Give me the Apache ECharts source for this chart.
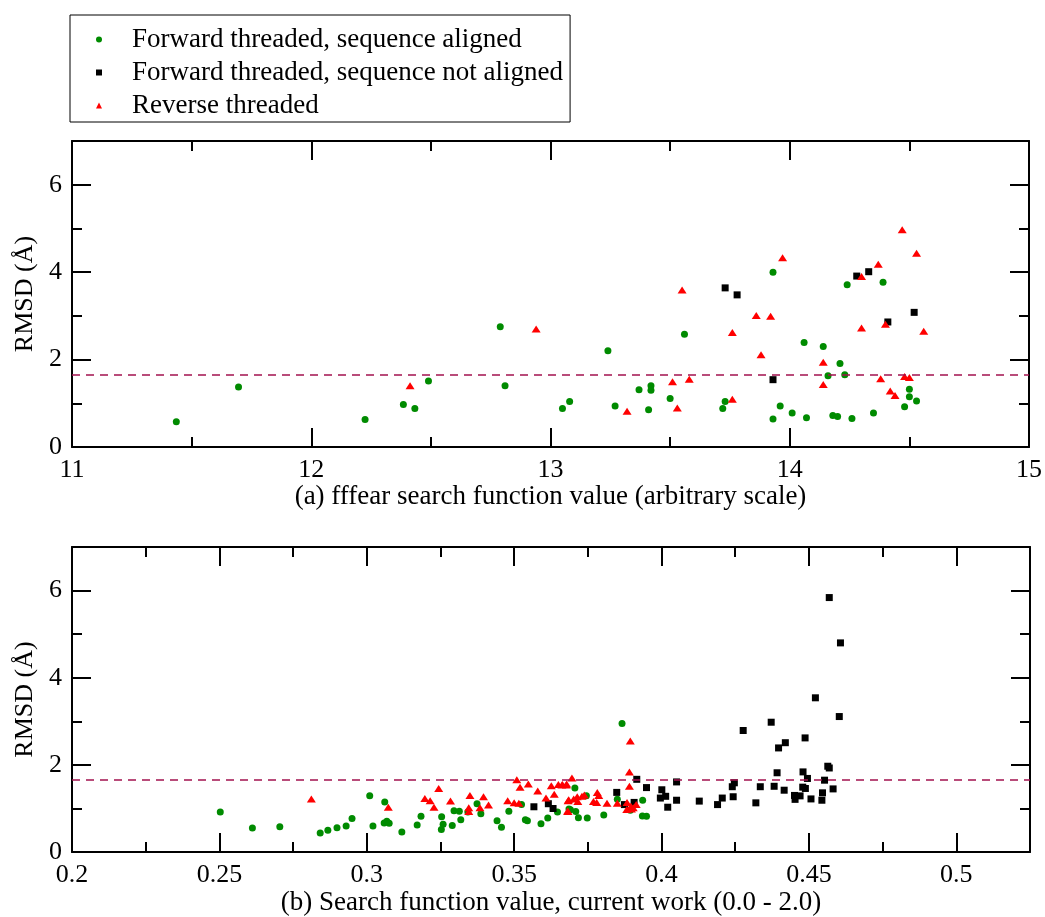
<!DOCTYPE html>
<html>
<head>
<meta charset="utf-8">
<script src="https://cdn.jsdelivr.net/npm/echarts@6/dist/echarts.min.js"></script>
<style>
  html, body { margin: 0; padding: 0; background: #fff; }
  #main { width: 1045px; height: 917px; }
</style>
</head>
<body>
<div id="main"></div>
<script>
// series names (legend)
const names = ['Forward threaded, sequence aligned', 'Forward threaded, sequence not aligned', 'Reverse threaded'];

// (a) fffear search function value vs RMSD
const topGreen = [[11.436,0.58],[11.696,1.37],[12.225,0.63],[12.385,0.97],[12.433,0.88],[12.49,1.51],[12.79,2.75],[12.81,1.40],[13.05,0.88],[13.08,1.04],[13.24,2.20],[13.27,0.94],[13.37,1.31],[13.42,1.40],[13.42,1.30],[13.41,0.85],[13.50,1.11],[13.56,2.58],[13.72,0.88],[13.73,1.04],[13.93,4.00],[13.93,0.64],[13.96,0.94],[14.01,0.78],[14.06,2.39],[14.07,0.67],[14.14,2.30],[14.16,1.63],[14.18,0.72],[14.20,0.70],[14.21,1.91],[14.23,1.65],[14.24,3.71],[14.26,0.65],[14.35,0.78],[14.39,3.77],[14.48,0.92],[14.50,1.32],[14.50,1.15],[14.53,1.05]];
const topBlack = [[13.73,3.64],[13.78,3.48],[13.93,1.54],[14.28,3.91],[14.33,4.01],[14.41,2.86],[14.52,3.08]];
const topRed = [[12.413,1.40],[12.94,2.70],[13.32,0.82],[13.51,1.49],[13.53,0.89],[13.55,3.59],[13.58,1.55],[13.76,2.62],[13.76,1.09],[13.86,3.01],[13.88,2.11],[13.92,2.99],[13.97,4.33],[14.14,1.94],[14.14,1.43],[14.30,3.90],[14.30,2.72],[14.37,4.18],[14.38,1.56],[14.40,2.81],[14.42,1.28],[14.44,1.18],[14.47,4.97],[14.48,1.61],[14.50,1.59],[14.53,4.43],[14.56,2.65]];

// (b) current work search function value vs RMSD
const bottomGreen = [[0.2503,0.92],[0.2612,0.555],[0.2705,0.58],[0.2842,0.44],[0.2868,0.50],[0.2899,0.56],[0.2930,0.60],[0.2950,0.77],[0.3010,1.29],[0.3021,0.60],[0.3061,1.15],[0.3059,0.67],[0.3068,0.71],[0.3076,0.66],[0.3119,0.46],[0.3171,0.62],[0.3184,0.82],[0.3254,0.81],[0.3259,0.64],[0.3253,0.52],[0.3290,0.61],[0.3296,0.95],[0.3314,0.94],[0.3319,0.74],[0.3343,0.92],[0.3374,1.11],[0.3387,0.88],[0.3442,0.72],[0.3457,0.57],[0.3482,0.94],[0.3525,1.09],[0.3538,0.74],[0.3545,0.72],[0.3591,0.65],[0.3614,0.78],[0.3647,0.92],[0.3686,0.99],[0.3706,1.47],[0.3745,1.29],[0.3691,0.97],[0.3709,0.93],[0.3718,0.79],[0.3748,0.78],[0.3804,0.85],[0.3850,1.21],[0.3866,2.95],[0.3894,0.96],[0.3936,1.19],[0.3935,0.83],[0.3949,0.82]];
const bottomBlack = [[0.3567,1.04],[0.3616,1.11],[0.3632,1.00],[0.3848,1.37],[0.3874,1.09],[0.3907,1.14],[0.3916,1.67],[0.3949,1.48],[0.4001,1.43],[0.3996,1.24],[0.4014,1.28],[0.4021,1.03],[0.4051,1.61],[0.4051,1.19],[0.4128,1.17],[0.4190,1.09],[0.4206,1.24],[0.4240,1.50],[0.4247,1.59],[0.4243,1.27],[0.4277,2.79],[0.4320,1.13],[0.4335,1.50],[0.4372,2.98],[0.4382,1.51],[0.4392,1.82],[0.4397,2.39],[0.4416,1.42],[0.4420,2.51],[0.4451,1.30],[0.4453,1.21],[0.4470,1.29],[0.4479,1.49],[0.4488,1.46],[0.4480,1.84],[0.4487,2.62],[0.4495,1.69],[0.4507,1.22],[0.4522,3.54],[0.4544,1.19],[0.4546,1.36],[0.4553,1.65],[0.4564,1.97],[0.4569,1.93],[0.4569,5.84],[0.4582,1.45],[0.4603,3.11],[0.4607,4.80]];
const bottomRed = [[0.2812,1.22],[0.3073,1.03],[0.3197,1.23],[0.3215,1.18],[0.3228,1.03],[0.3244,1.46],[0.3284,1.17],[0.3346,1.02],[0.3346,0.93],[0.3350,1.30],[0.3384,1.02],[0.3396,1.27],[0.3413,1.08],[0.3478,1.18],[0.3500,1.13],[0.3516,1.12],[0.3509,1.66],[0.3520,1.49],[0.3548,1.56],[0.3580,1.40],[0.3608,1.24],[0.3626,1.52],[0.3636,1.33],[0.3650,1.55],[0.3664,1.55],[0.3678,1.56],[0.3683,1.18],[0.3681,0.94],[0.3696,1.70],[0.3662,1.54],[0.3677,1.54],[0.3685,1.20],[0.3702,1.22],[0.3714,1.27],[0.3730,1.28],[0.3738,1.31],[0.3716,1.16],[0.3683,0.93],[0.3782,1.37],[0.3787,1.30],[0.3769,1.16],[0.3780,1.14],[0.3815,1.12],[0.3850,1.12],[0.3883,1.14],[0.3896,1.05],[0.3904,1.02],[0.3914,1.09],[0.3882,0.98],[0.3898,0.99],[0.3894,2.55],[0.3891,1.84],[0.3891,1.51]];

// RMSD cutoff line
const cutoff = 1.65;

const font = 'Liberation Serif';

function xAx(gridIndex, min, max, interval, name, pos, showMax) {
    const main = pos === 'bottom';
    return {
        type: 'value', gridIndex: gridIndex, position: pos,
        min: min, max: max, interval: interval,
        name: main ? name : '', nameLocation: 'middle', nameGap: 33,
        nameTextStyle: {fontFamily: font, fontSize: 27, color: '#000'},
        axisLine: {onZero: false, lineStyle: {color: '#000', width: 2}},
        axisTick: {inside: true, length: 19, lineStyle: {color: '#000', width: 2}},
        minorTick: {show: true, splitNumber: 2, length: 10, lineStyle: {color: '#000', width: 2}},
        axisLabel: {show: main, showMaxLabel: showMax, margin: 10, fontFamily: font, fontSize: 26, color: '#000'},
        splitLine: {show: false}
    }
}
function yAx(gridIndex, pos) {
    const main = pos === 'left';
    return {
        type: 'value', gridIndex: gridIndex, position: pos,
        min: 0, max: 7, interval: 2,
        name: main ? 'RMSD (Å)' : '', nameLocation: 'middle', nameGap: 28,
        nameTextStyle: {fontFamily: font, fontSize: 26, color: '#000'},
        axisLine: {onZero: false, lineStyle: {color: '#000', width: 2}},
        axisTick: {inside: true, length: 19, lineStyle: {color: '#000', width: 2}},
        minorTick: {show: true, splitNumber: 2, length: 10, lineStyle: {color: '#000', width: 2}},
        axisLabel: {show: main, showMaxLabel: false, margin: 10, fontFamily: font, fontSize: 26, color: '#000'},
        splitLine: {show: false}
    }
}

function sc(name, data, xi, yi, symbol, size, color, line) {
    const s = {
        name: name, type: 'scatter', xAxisIndex: xi, yAxisIndex: yi,
        symbol: symbol, symbolSize: size, data: data,
        itemStyle: {color: color, opacity: 1}
    };
    if (line) {
        s.markLine = {
            silent: true, symbol: ['none', 'none'], label: {show: false},
            lineStyle: {color: '#a3124f', type: [8, 6], width: 1.6},
            data: [{yAxis: cutoff}]
        };
    }
    return s;
}

const chart = echarts.init(document.getElementById('main'));
chart.setOption({
    animation: false,
    backgroundColor: '#fff',
    legend: {
        left: 70, top: 15, orient: 'vertical',
        data: [{name: names[0], icon: 'circle'}, {name: names[1], icon: 'rect'}, {name: names[2], icon: 'triangle'}],
        itemWidth: 6, itemHeight: 6, itemGap: 6,
        padding: [11, 7, 3, 26],
        borderColor: '#000', borderWidth: 1,
        textStyle: {fontFamily: font, fontSize: 27, color: '#000', lineHeight: 27, padding: [0, 0, 0, 25]}
    },
    grid: [
        {left: 72, right: 15, top: 141, height: 306},
        {left: 72, right: 15, top: 547, height: 306}
    ],
    xAxis: [
        xAx(0, 11, 15, 1, '(a) fffear search function value (arbitrary scale)', 'bottom', true),
        xAx(0, 11, 15, 1, '', 'top', true),
        xAx(1, 0.2, 0.525, 0.05, '(b) Search function value, current work (0.0 - 2.0)', 'bottom', false),
        xAx(1, 0.2, 0.525, 0.05, '', 'top', false)
    ],
    yAxis: [yAx(0, 'left'), yAx(0, 'right'), yAx(1, 'left'), yAx(1, 'right')],
    series: [
        sc(names[0], topGreen, 0, 0, 'circle', 7, '#008b00', true),
        sc(names[1], topBlack, 0, 0, 'rect', 7, '#000', false),
        sc(names[2], topRed, 0, 0, 'triangle', [9, 7], '#ff0000', false),
        sc(names[0], bottomGreen, 2, 2, 'circle', 7, '#008b00', true),
        sc(names[1], bottomBlack, 2, 2, 'rect', 7, '#000', false),
        sc(names[2], bottomRed, 2, 2, 'triangle', [9, 7], '#ff0000', false)
    ]
});
</script>
</body>
</html>
